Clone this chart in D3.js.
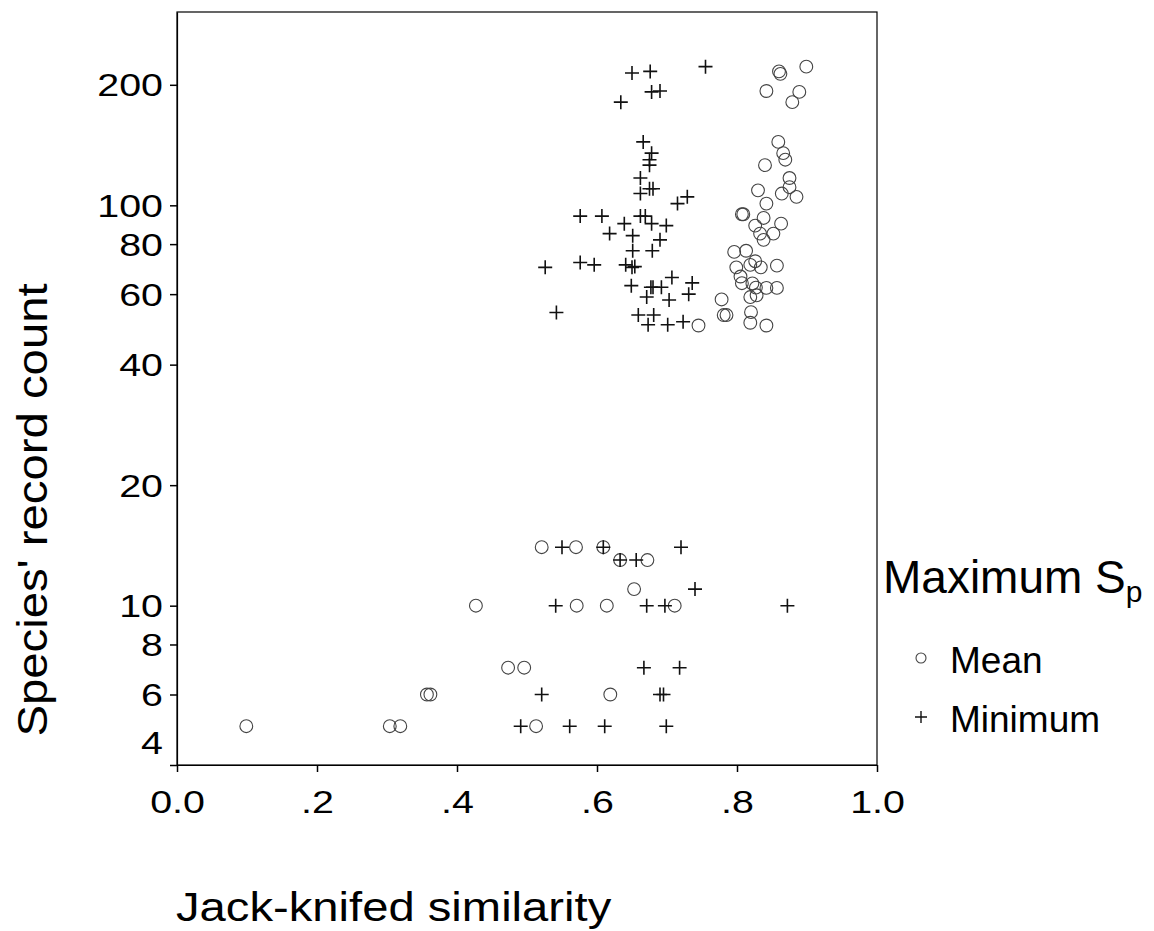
<!DOCTYPE html>
<html>
<head>
<meta charset="utf-8">
<script src="https://cdn.jsdelivr.net/npm/d3@7"></script>
<style>
  html, body { margin: 0; padding: 0; background: #fff; }
  svg { display: block; font-family: "Liberation Sans", Arial, sans-serif; }
</style>
</head>
<body>
<svg id="chart" width="1154" height="931"></svg>
<script>
// ---- Data ----
// "Mean" series: jack-knifed similarity and species' record count
const meanSim = [
  0.860, 0.862, 0.899, 0.842, 0.889, 0.879, 0.859, 0.866, 0.869, 0.840,
  0.875, 0.875, 0.830, 0.864, 0.885, 0.842, 0.807, 0.809, 0.838, 0.826,
  0.863, 0.833, 0.838, 0.852, 0.796, 0.813, 0.799, 0.819, 0.826, 0.834,
  0.857, 0.805, 0.807, 0.822, 0.827, 0.842, 0.857, 0.819, 0.828, 0.778,
  0.781, 0.785, 0.820, 0.819, 0.842, 0.745,
  0.521, 0.570, 0.609, 0.633, 0.672, 0.653, 0.427, 0.571, 0.614, 0.711,
  0.473, 0.496, 0.357, 0.362, 0.619, 0.099, 0.304, 0.319, 0.513
];
const meanCount = [
  216, 213, 222, 193, 192, 181, 144, 135, 130, 126,
  117, 111, 109, 107, 105, 101, 95, 95, 93, 89,
  90, 85, 82, 85, 76.5, 77, 70, 71, 72.5, 70,
  70.7, 66.4, 63.9, 63.8, 62.3, 62.2, 62.2, 59, 59.6, 58.2,
  53.2, 53.2, 54.1, 50.9, 50.1, 50.1,
  14, 14, 14, 13, 13, 11, 10, 10, 10, 10,
  7, 7, 6, 6, 6, 5, 5, 5, 5
];
// "Minimum" series
const minSim = [
  0.650, 0.676, 0.755, 0.678, 0.690, 0.634, 0.666, 0.678, 0.675, 0.675,
  0.662, 0.662, 0.675, 0.680, 0.715, 0.729,
  0.576, 0.607, 0.639, 0.662, 0.669, 0.678, 0.699, 0.618, 0.651, 0.690,
  0.651, 0.679, 0.526, 0.576, 0.596, 0.641, 0.650, 0.654, 0.707, 0.736,
  0.649, 0.677, 0.680, 0.692, 0.671, 0.703, 0.731, 0.542, 0.659, 0.681,
  0.673, 0.701, 0.723,
  0.550, 0.609, 0.720, 0.633, 0.656, 0.740, 0.541, 0.671, 0.697, 0.872,
  0.667, 0.718, 0.521, 0.690, 0.695, 0.491, 0.561, 0.611, 0.699
];
const minCount = [
  214, 216, 222, 192, 193, 181, 144, 135, 130, 126,
  117, 107, 110, 110, 101, 105,
  94, 94, 90, 94, 94, 90, 89, 85, 84, 82,
  77, 77, 70, 72, 71, 71, 70, 70.3, 66, 64,
  63, 62.4, 62.4, 62.4, 59, 58, 60, 54, 53.2, 53.2,
  50.3, 50.3, 51.2,
  14, 14, 14, 13, 13, 11, 10, 10, 10, 10,
  7, 7, 6, 6, 6, 5, 5, 5, 5
];
const xTicks = [0, 0.2, 0.4, 0.6, 0.8, 1.0];
const xTickLabels = ["0.0", ".2", ".4", ".6", ".8", "1.0"];
const yTicks = [4, 6, 8, 10, 20, 40, 60, 80, 100, 200];
const legendLabels = ["Mean", "Minimum"];
const xTitle = "Jack-knifed similarity";
const yTitle = "Species' record count";

// ---- Layout ----
const svg = d3.select("#chart");
const L = 177, R = 877, T = 12, B = 765;
const x = d3.scaleLinear().domain([0, 1]).range([L, R]);
const y = d3.scaleLog().domain([4, 304]).range([B, T]);

// frame
svg.append("rect")
  .attr("x", L).attr("y", T).attr("width", R - L).attr("height", B - T)
  .attr("fill", "none").attr("stroke", "#000").attr("stroke-width", 1.2);

// y axis
const yAxis = svg.append("g")
  .attr("transform", `translate(${L},0)`)
  .call(d3.axisLeft(y).tickValues(yTicks).tickFormat(d3.format("d")).tickSize(7).tickSizeOuter(0));
yAxis.select(".domain").attr("stroke", "#000").attr("stroke-width", 1.2);
yAxis.selectAll(".tick line").attr("stroke", "#000").attr("stroke-width", 1.5);
const ySx = 1.27;
yAxis.selectAll(".tick text")
  .attr("font-family", "Liberation Sans, Arial, sans-serif")
  .attr("font-size", 31)
  .attr("fill", "#000")
  .attr("text-anchor", "end")
  .attr("x", -14 / ySx)
  .attr("dy", d => d === 4 ? "-0.36em" : "0.36em")
  .attr("transform", `scale(${ySx},1)`);

// x axis
const xAxis = svg.append("g")
  .attr("transform", `translate(0,${B})`)
  .call(d3.axisBottom(x).tickValues(xTicks)
    .tickFormat((d, i) => xTickLabels[i]).tickSize(7).tickSizeOuter(0));
xAxis.select(".domain").attr("stroke", "#000").attr("stroke-width", 1.2);
xAxis.selectAll(".tick line").attr("stroke", "#000").attr("stroke-width", 1.5);
const xSx = 1.27;
xAxis.selectAll(".tick text")
  .attr("font-family", "Liberation Sans, Arial, sans-serif")
  .attr("font-size", 31)
  .attr("fill", "#000")
  .attr("y", 48).attr("dy", 0)
  .attr("transform", `scale(${xSx},1)`);

// axis titles
svg.append("text")
  .attr("transform", `translate(${L - 1},921) scale(1.18,1)`)
  .attr("font-size", 40).attr("fill", "#000")
  .text(xTitle);
svg.append("text")
  .attr("transform", `translate(47,510) rotate(-90) scale(1.1,1)`)
  .attr("text-anchor", "middle")
  .attr("font-size", 43).attr("fill", "#000")
  .text(yTitle);

// markers
const plusPath = s => `M${-s},0H${s}M0,${-s}V${s}`;
const gMean = svg.append("g");
gMean.selectAll("circle").data(meanSim.map((s, i) => [s, meanCount[i]]))
  .join("circle")
  .attr("cx", d => x(d[0])).attr("cy", d => y(d[1]))
  .attr("r", 6.4)
  .attr("fill", "none").attr("stroke", "#444").attr("stroke-width", 1.1);
const gMin = svg.append("g");
gMin.selectAll("path").data(minSim.map((s, i) => [s, minCount[i]]))
  .join("path")
  .attr("transform", d => `translate(${x(d[0])},${y(d[1])})`)
  .attr("d", plusPath(7))
  .attr("fill", "none").attr("stroke", "#111").attr("stroke-width", 1.6);

// legend
const lg = svg.append("g");
const title = lg.append("text")
  .attr("x", 883).attr("y", 593)
  .attr("font-size", 46).attr("fill", "#000");
title.append("tspan").text("Maximum S");
title.append("tspan").attr("font-size", 30).attr("dy", 9).text("p");

lg.append("circle").attr("cx", 921).attr("cy", 658).attr("r", 5)
  .attr("fill", "none").attr("stroke", "#444").attr("stroke-width", 1.1);
lg.append("path").attr("transform", "translate(921,717)").attr("d", plusPath(6))
  .attr("fill", "none").attr("stroke", "#111").attr("stroke-width", 1.4);
lg.selectAll("text.item").data(legendLabels).join("text")
  .attr("class", "item")
  .attr("x", 950).attr("y", (d, i) => 673 + i * 59)
  .attr("font-size", 37).attr("fill", "#000")
  .text(d => d);
</script>
</body>
</html>
